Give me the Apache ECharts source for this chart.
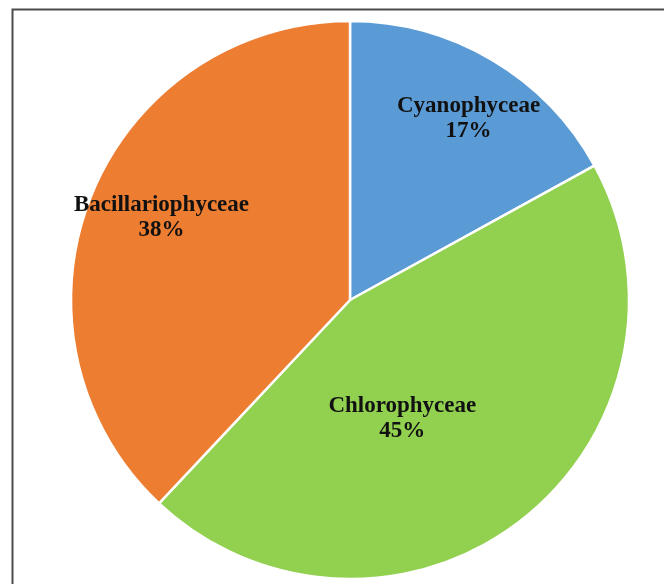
<!DOCTYPE html>
<html>
<head>
<meta charset="utf-8">
<script src="https://cdn.jsdelivr.net/npm/echarts@6/dist/echarts.min.js"></script>
<style>html,body{margin:0;padding:0;background:#fff}#c{width:664px;height:584px}</style>
</head>
<body>
<div id="c"></div>
<script>
const categories = ['Cyanophyceae', 'Chlorophyceae', 'Bacillariophyceae'];
const values = [17, 45, 38];
const colors = ['#5B9BD5', '#92D050', '#ED7D31'];
const labelShift = [[46, -59], [-35, 6], [-56, -30]];

const chart = echarts.init(document.getElementById('c'), null, {renderer: 'canvas'});
chart.setOption({
  animation: false,
  backgroundColor: '#ffffff',
  graphic: [{
    type: 'rect', shape: {x: 12.5, y: 9.5, width: 700, height: 700},
    style: {fill: 'none', stroke: '#4d4d4d', lineWidth: 2}, silent: true
  }],
  series: [{
    type: 'pie',
    center: [350, 300],
    radius: [0, 279],
    startAngle: 90,
    clockwise: true,
    data: categories.map((c, i) => ({name: c, value: values[i], itemStyle: {color: colors[i]}})),
    itemStyle: {borderColor: '#ffffff', borderWidth: 2.5},
    label: {
      show: true,
      position: 'inside',
      formatter: '{b}\n{d}%',
      fontFamily: '"Liberation Serif", "Times New Roman", serif',
      fontWeight: 'bold',
      fontSize: 23,
      lineHeight: 25,
      color: '#111111',
      align: 'center'
    },
    labelLine: {show: false},
    labelLayout: function (p) {
      const s = labelShift[p.dataIndex];
      return {dx: s[0], dy: s[1]};
    }
  }]
});
</script>
</body>
</html>
